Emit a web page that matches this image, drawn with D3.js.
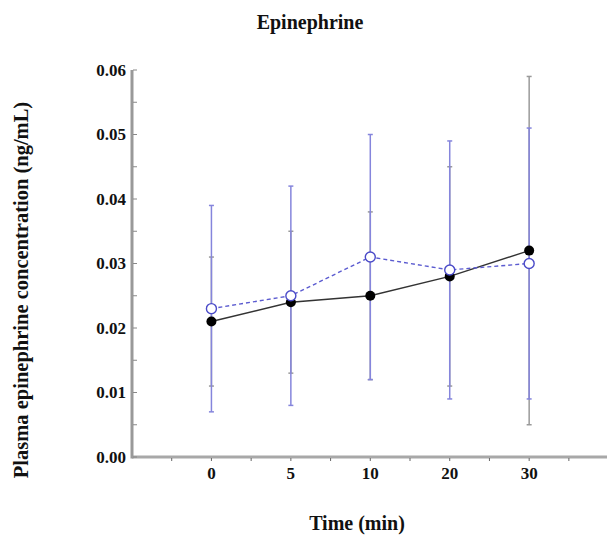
<!DOCTYPE html>
<html><head><meta charset="utf-8">
<script src="https://cdn.jsdelivr.net/npm/d3@7"></script>
<style>body{margin:0;background:#fff}svg{display:block}</style>
</head><body>
<svg id="c" width="607" height="537"></svg>
<script>
const times = ["0", "5", "10", "20", "30"];
const filledMean  = [0.021, 0.024, 0.025, 0.028, 0.032];
const filledUpper = [0.031, 0.035, 0.038, 0.045, 0.059];
const filledLower = [0.011, 0.013, 0.012, 0.011, 0.005];
const openMean  = [0.023, 0.025, 0.031, 0.029, 0.030];
const openUpper = [0.039, 0.042, 0.050, 0.049, 0.051];
const openLower = [0.007, 0.008, 0.012, 0.009, 0.009];
const yTicks = [0, 0.01, 0.02, 0.03, 0.04, 0.05, 0.06];

const svg = d3.select("#c");
const font = "'Liberation Serif', 'Times New Roman', serif";
const x = d3.scaleLinear().domain([-1, 4.98]).range([132, 607]);
const y = d3.scaleLinear().domain([0, 0.06]).range([457, 70]);
const axisCol = "#a8a8a8";

// axes lines
svg.append("line").attr("x1", 132).attr("x2", 607).attr("y1", y(0)).attr("y2", y(0))
  .attr("stroke", axisCol).attr("stroke-width", 3);
svg.append("line").attr("x1", 132).attr("x2", 132).attr("y1", y(0.06)).attr("y2", y(0) + 1.5)
  .attr("stroke", "#999").attr("stroke-width", 3);

// y ticks
const yMinor = d3.range(0, 0.0601, 0.005);
svg.selectAll(".yt").data(yMinor).join("line")
  .attr("x1", 133).attr("x2", 137).attr("y1", d => y(d)).attr("y2", d => y(d))
  .attr("stroke", "#888").attr("stroke-width", 1);
svg.selectAll(".yl").data(yTicks).join("text")
  .attr("x", 126).attr("y", d => y(d) + 5.5)
  .attr("text-anchor", "end").attr("font-family", font).attr("font-weight", "bold")
  .attr("font-size", 17).attr("fill", "#111").text(d => d.toFixed(2));

// x ticks
const xMinor = d3.range(-0.5, 5, 0.5);
svg.selectAll(".xt").data(xMinor).join("line")
  .attr("x1", d => x(d)).attr("x2", d => x(d)).attr("y1", y(0) + 1).attr("y2", y(0) + 4)
  .attr("stroke", "#666").attr("stroke-width", 1);
svg.selectAll(".xl").data(times).join("text")
  .attr("x", (d, i) => x(i)).attr("y", 479)
  .attr("text-anchor", "middle").attr("font-family", font).attr("font-weight", "bold")
  .attr("font-size", 17).attr("fill", "#111").text(d => d);

// error bars
function errBars(mean, up, lo, col) {
  const g = svg.append("g");
  times.forEach((t, i) => {
    const cx = x(i);
    g.append("line").attr("x1", cx).attr("x2", cx).attr("y1", y(up[i])).attr("y2", y(lo[i]))
      .attr("stroke", col).attr("stroke-width", 1.5);
    [up[i], lo[i]].forEach(v => g.append("line").attr("x1", cx - 2.5).attr("x2", cx + 2.5)
      .attr("y1", y(v)).attr("y2", y(v)).attr("stroke", col).attr("stroke-width", 1.5));
  });
}
errBars(filledMean, filledUpper, filledLower, "#9a9a9a");
errBars(openMean, openUpper, openLower, "#8585dc");

const line = d3.line().x((d, i) => x(i)).y(d => y(d));
svg.append("path").datum(filledMean).attr("d", line).attr("fill", "none")
  .attr("stroke", "#333").attr("stroke-width", 1.4);
svg.append("path").datum(openMean).attr("d", line).attr("fill", "none")
  .attr("stroke", "#5b5bd0").attr("stroke-width", 1.4).attr("stroke-dasharray", "4,3");

svg.selectAll(".fm").data(filledMean).join("circle")
  .attr("cx", (d, i) => x(i)).attr("cy", d => y(d)).attr("r", 5).attr("fill", "#000");
svg.selectAll(".om").data(openMean).join("circle")
  .attr("cx", (d, i) => x(i)).attr("cy", d => y(d)).attr("r", 5)
  .attr("fill", "#fff").attr("stroke", "#4a4ac8").attr("stroke-width", 1.4);

// titles
svg.append("text").attr("x", 310).attr("y", 29).attr("text-anchor", "middle")
  .attr("font-family", font).attr("font-weight", "bold").attr("font-size", 20)
  .attr("fill", "#111").text("Epinephrine");
svg.append("text").attr("x", 357).attr("y", 530).attr("text-anchor", "middle")
  .attr("font-family", font).attr("font-weight", "bold").attr("font-size", 20)
  .attr("fill", "#111").text("Time (min)");
svg.append("text").attr("transform", "translate(28,290) rotate(-90)").attr("text-anchor", "middle")
  .attr("font-family", font).attr("font-weight", "bold").attr("font-size", 20.5)
  .attr("fill", "#111").text("Plasma epinephrine concentration (ng/mL)");
</script>
</body></html>
